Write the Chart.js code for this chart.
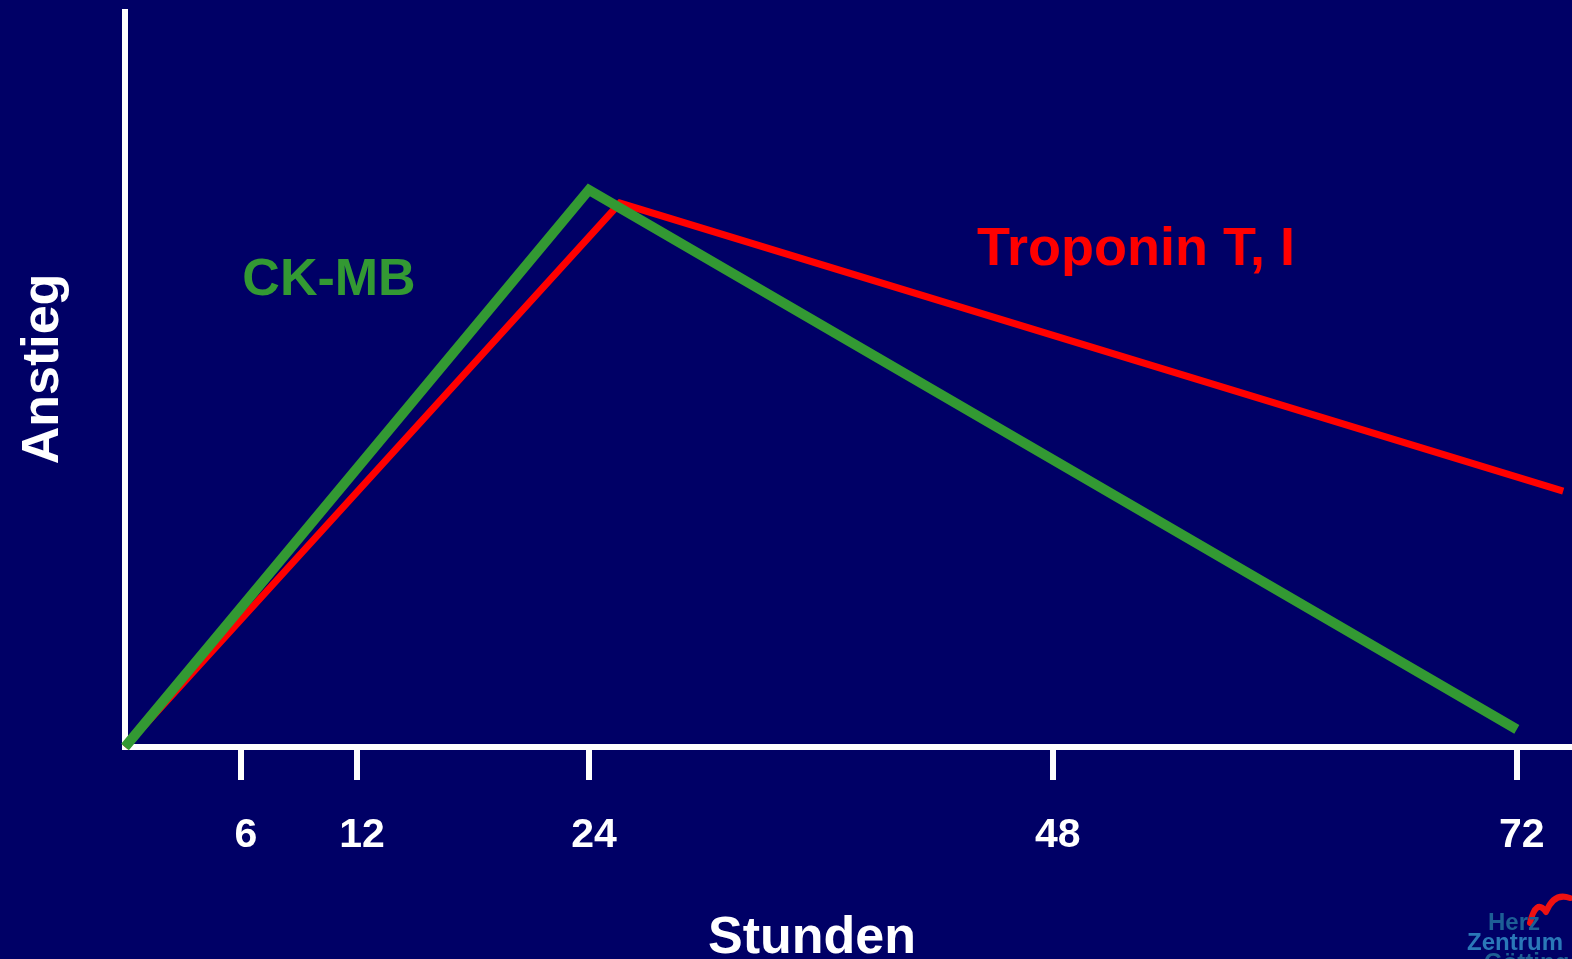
<!DOCTYPE html>
<html>
<head>
<meta charset="utf-8">
<script src="https://cdn.jsdelivr.net/npm/chart.js@4.4.1/dist/chart.umd.min.js"></script>
<style>
  html, body { margin: 0; padding: 0; background: #000066; overflow: hidden; }
  #wrap { width: 1572px; height: 959px; }
  canvas { display: block; }
</style>
</head>
<body>
<div id="wrap"><canvas id="c" width="1572" height="959"></canvas></div>
<script>
// Hours after onset (x) and relative rise (y) for each marker
const ckmbHours   = [0, 24, 72];
const ckmbRise    = [0, 75.8, 2.4];
const tropHours   = [0, 25.6, 74.4];
const tropRise    = [0, 74.0, 34.8];
const hourTicks   = [6, 12, 24, 48, 72];

const FONT = '"Liberation Sans", Arial, Helvetica, sans-serif';
const NAVY = '#000066';

const toPoints = (xs, ys) => xs.map((x, i) => ({ x, y: ys[i] }));

// Background, axis titles, series captions and corner logo
const decor = {
  id: 'decor',
  beforeDraw(chart) {
    const ctx = chart.ctx;
    ctx.save();
    ctx.fillStyle = NAVY;
    ctx.fillRect(0, 0, chart.width, chart.height);
    ctx.restore();
  },
  afterDraw(chart) {
    const ctx = chart.ctx;
    ctx.save();
    ctx.fillStyle = '#ffffff';
    ctx.textAlign = 'center';
    ctx.textBaseline = 'alphabetic';

    // y-axis title
    ctx.save();
    ctx.font = 'bold 52px ' + FONT;
    ctx.translate(58, 369);
    ctx.rotate(-Math.PI / 2);
    ctx.fillText('Anstieg', 0, 0);
    ctx.restore();

    // x-axis title
    ctx.font = 'bold 52px ' + FONT;
    ctx.fillText('Stunden', 812, 953);

    // series captions
    ctx.font = 'bold 52px ' + FONT;
    ctx.fillStyle = '#339933';
    ctx.fillText('CK-MB', 329, 295);
    ctx.fillStyle = '#ff0000';
    ctx.font = 'bold 54px ' + FONT;
    ctx.fillText('Troponin T, I', 1136, 265);

    // small corner logo
    ctx.strokeStyle = '#ee1111';
    ctx.lineWidth = 6;
    ctx.lineCap = 'round';
    ctx.lineJoin = 'round';
    ctx.beginPath();
    ctx.moveTo(1530, 923);
    ctx.quadraticCurveTo(1536, 898, 1546, 912);
    ctx.quadraticCurveTo(1554, 892, 1570, 898);
    ctx.stroke();
    ctx.textAlign = 'left';
    ctx.font = 'bold 24px ' + FONT;
    ctx.fillStyle = '#1d5f95';
    ctx.fillText('Herz', 1488, 930);
    ctx.fillStyle = '#2a78b8';
    ctx.fillText('Zentrum', 1467, 950);
    ctx.fillStyle = '#1d5f95';
    ctx.fillText('Göttingen', 1484, 970);
    ctx.restore();
  }
};

new Chart(document.getElementById('c'), {
  type: 'scatter',
  data: {
    datasets: [
      {
        label: 'CK-MB',
        data: toPoints(ckmbHours, ckmbRise),
        showLine: true,
        borderColor: '#339933',
        borderWidth: 10,
        pointRadius: 0,
        pointHoverRadius: 0,
        tension: 0,
        clip: false
      },
      {
        label: 'Troponin T, I',
        data: toPoints(tropHours, tropRise),
        showLine: true,
        borderColor: '#ff0000',
        borderWidth: 7,
        pointRadius: 0,
        pointHoverRadius: 0,
        tension: 0,
        clip: false
      }
    ]
  },
  options: {
    responsive: false,
    animation: false,
    events: [],
    layout: { padding: { left: 0, top: 12, right: 3, bottom: 0 } },
    plugins: {
      legend: { display: false },
      tooltip: { enabled: false },
      title: { display: false }
    },
    scales: {
      x: {
        type: 'linear',
        min: 0,
        max: 74.7,
        afterFit(scale) { scale.height = 959 - 747; },
        afterBuildTicks(scale) {
          scale.ticks = hourTicks.map(v => ({ value: v }));
        },
        border: { display: true, color: '#ffffff', width: 6 },
        grid: {
          display: true,
          drawOnChartArea: false,
          drawTicks: true,
          tickLength: 33,
          tickWidth: 6,
          tickColor: '#ffffff',
          color: '#ffffff',
          lineWidth: 6
        },
        ticks: {
          color: '#ffffff',
          font: { family: FONT, size: 41, weight: 'bold' },
          padding: 31,
          labelOffset: 5,
          maxRotation: 0,
          autoSkip: false
        }
      },
      y: {
        type: 'linear',
        min: 0,
        max: 100,
        afterFit(scale) { scale.width = 125; },
        border: { display: true, color: '#ffffff', width: 6 },
        grid: { display: false, drawTicks: false },
        ticks: { display: false }
      }
    }
  },
  plugins: [decor]
});
</script>
</body>
</html>
